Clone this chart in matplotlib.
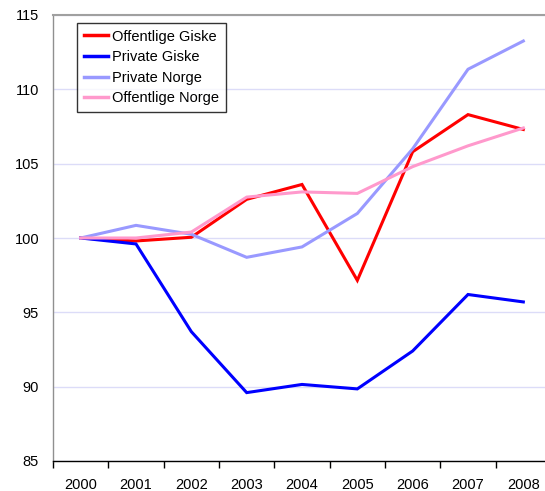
import matplotlib
matplotlib.use("Agg")
import matplotlib.pyplot as plt
from matplotlib.ticker import FixedLocator, NullFormatter

plt.rcParams['font.family'] = ['Liberation Sans', 'DejaVu Sans']

years = ['2000', '2001', '2002', '2003', '2004', '2005', '2006', '2007', '2008']
offentlige_giske = [100.0, 99.8, 100.05, 102.6, 103.6, 97.15, 105.8, 108.3, 107.3]
private_giske = [100.0, 99.6, 93.7, 89.6, 90.15, 89.85, 92.4, 96.2, 95.7]
private_norge = [100.0, 100.85, 100.25, 98.7, 99.4, 101.65, 106.0, 111.35, 113.25]
offentlige_norge = [100.0, 100.0, 100.4, 102.75, 103.1, 103.0, 104.8, 106.2, 107.4]

series = [
    ('Offentlige Giske', offentlige_giske, '#ff0000'),
    ('Private Giske', private_giske, '#0000ff'),
    ('Private Norge', private_norge, '#9999ff'),
    ('Offentlige Norge', offentlige_norge, '#ff99cc'),
]

W, H = 545, 491
fig = plt.figure(figsize=(W / 100, H / 100), dpi=100)
left, right, top, bottom = 53, 551, 15, 461
ax = fig.add_axes([left / W, (H - bottom) / H, (right - left) / W, (bottom - top) / H])

x = list(range(len(years)))
for name, vals, col in series:
    ax.plot(x, vals, color=col, lw=2.2, label=name, solid_joinstyle='miter')

ax.set_xlim(-0.5, len(years) - 0.5)
ax.set_ylim(85, 115)
ax.set_yticks([85, 90, 95, 100, 105, 110, 115])
ax.grid(axis='y', color='#dcdcf8', lw=1.0)
ax.set_axisbelow(True)

ax.set_xticks(x)
ax.set_xticklabels(years, fontsize=10.5)
ax.xaxis.set_minor_locator(FixedLocator([i - 0.5 for i in range(len(years) + 1)]))
ax.xaxis.set_minor_formatter(NullFormatter())
ax.tick_params(axis='x', which='major', length=0, pad=12)
ax.tick_params(axis='x', which='minor', length=5, width=1, color='black', direction='out')
ax.tick_params(axis='y', length=0, pad=10, labelsize=10.5)

ax.spines['right'].set_visible(False)
ax.spines['top'].set_color('#a0a0a0')
ax.spines['top'].set_linewidth(1.5)
ax.spines['left'].set_color('#909090')
ax.spines['left'].set_linewidth(1.0)
ax.spines['bottom'].set_color('black')
ax.spines['bottom'].set_linewidth(1.0)

leg = ax.legend(loc='upper left', bbox_to_anchor=((77 - left) / (right - left), (bottom - 23) / (bottom - top)),
                fontsize=10.5, frameon=True, fancybox=False, handlelength=1.65, handletextpad=0.3,
                borderpad=0.45, labelspacing=0.45, borderaxespad=0)
leg.get_frame().set_edgecolor('black')
leg.get_frame().set_linewidth(1.0)
for h in leg.get_lines():
    h.set_linewidth(2.5)

fig.savefig('out.png', dpi=100, facecolor='white')
